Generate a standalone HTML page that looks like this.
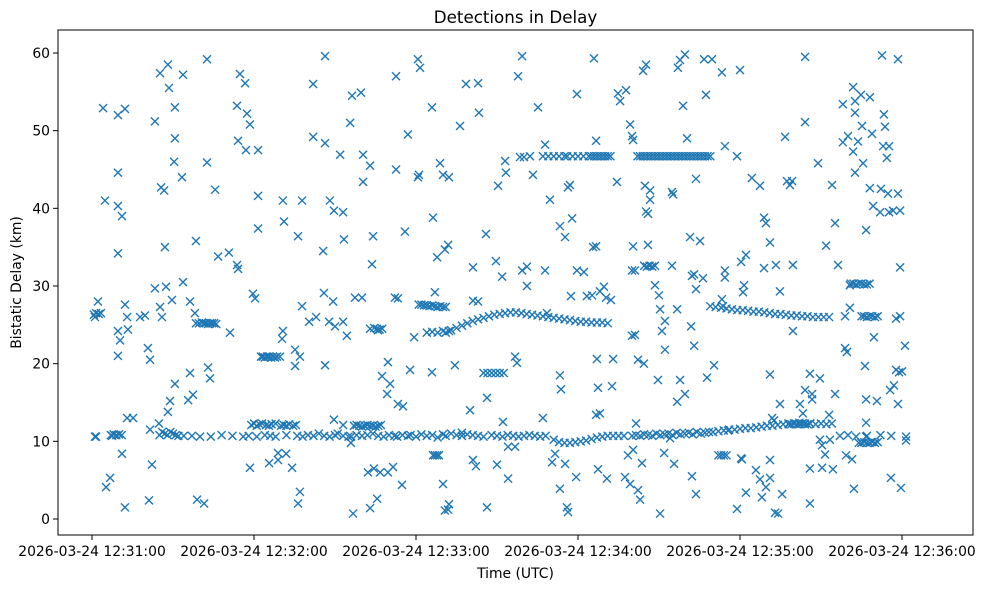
<!DOCTYPE html>
<html><head><meta charset="utf-8"><style>
html,body{margin:0;padding:0;background:#fff;}
svg{display:block;font-family:"DejaVu Sans","Liberation Sans",sans-serif;}
</style></head><body>
<svg id="chart" width="983" height="590" viewBox="0 0 983 590" xmlns="http://www.w3.org/2000/svg">
<rect x="0" y="0" width="983" height="590" fill="#fff"/>
<text x="515.5" y="23" text-anchor="middle" font-size="16.7" fill="#000">Detections in Delay</text>
<g id="marks"></g>
<rect x="58" y="30" width="915" height="505" fill="none" stroke="#000" stroke-width="1"/>
<g id="xaxis"></g>
<g id="yaxis"></g>
<text x="515.5" y="578" text-anchor="middle" font-size="13.9" fill="#000">Time (UTC)</text>
<text x="21" y="282.5" text-anchor="middle" font-size="13.9" fill="#000" transform="rotate(-90 21 282.5)">Bistatic Delay (km)</text>
</svg>
<script>
// seconds after 12:31:00, delay km
const xTickLabels = ["2026-03-24 12:31:00","2026-03-24 12:32:00","2026-03-24 12:33:00","2026-03-24 12:34:00","2026-03-24 12:35:00","2026-03-24 12:36:00"];
const xTickValues = [0,60,120,180,240,300];
const yTickValues = [0,10,20,30,40,50,60];

const scatterT = [1.1,1.1,1.5,2.2,4.1,4.8,5.2,6.7,7.4,9.6,9.6,9.6,9.6,9.6,9.6,10.4,11.1,11.1,12.2,12.2,12.2,13.0,13.0,13.3,15.2,17.8,19.6,20.7,21.5,21.5,21.1,22.2,23.3,23.3,24.8,25.2,25.2,25.6,25.9,26.7,27.0,27.4,28.1,28.1,28.5,28.9,29.6,30.4,30.7,30.7,30.7,33.3,33.7,33.7,35.6,36.3,36.3,37.4,38.1,38.5,38.9,41.5,42.6,42.6,43.0,43.7,45.6,46.7,50.7,51.1,53.7,53.7,54.1,54.1,54.8,56.7,57.0,57.4,58.5,58.5,59.6,60.4,61.5,61.5,61.5,65.6,68.9,68.9,70.7,70.7,71.1,70.4,71.9,74.1,75.2,75.2,76.3,76.3,77.0,77.0,77.8,77.8,80.4,81.9,81.9,83.0,85.6,85.9,86.3,86.3,86.3,87.8,88.1,89.3,89.6,89.6,90.0,91.9,93.0,93.0,93.0,93.3,94.4,95.6,95.9,96.3,96.7,97.4,99.6,100.0,100.4,100.4,102.2,103.0,103.0,103.7,104.1,104.4,105.6,105.9,106.7,107.4,109.3,109.6,109.6,110.4,111.5,112.2,112.6,112.6,113.3,113.3,114.8,115.2,115.9,117.0,117.8,119.3,120.7,120.7,121.1,121.5,125.9,125.9,126.3,127.0,127.8,128.9,130.0,130.0,130.7,130.7,131.9,131.9,132.2,132.2,132.2,134.4,136.3,137.0,138.5,140.0,141.1,141.1,141.1,142.2,143.0,143.0,143.3,145.9,146.3,146.3,149.6,150.0,150.4,151.9,152.2,153.0,153.3,154.1,154.1,156.7,156.7,157.4,157.8,158.5,159.3,159.3,160.0,161.1,161.1,162.2,163.3,165.2,167.0,167.8,167.8,168.5,169.6,170.4,171.5,173.3,173.3,173.3,173.7,175.2,175.2,176.3,176.3,175.9,177.0,177.4,177.8,179.3,179.6,179.6,182.2,183.3,185.2,185.6,185.9,186.7,186.7,186.7,187.0,187.4,187.4,188.1,188.1,189.6,190.4,190.7,192.2,192.6,193.0,194.4,194.8,195.6,197.4,197.8,198.5,199.3,199.3,200.0,200.0,200.0,200.4,200.4,200.4,201.1,201.1,201.5,202.2,202.2,203.0,203.7,204.1,204.4,204.8,205.2,205.2,205.9,205.9,206.7,206.7,208.5,209.6,210.0,210.4,210.4,211.1,211.9,212.2,212.2,214.1,214.8,214.8,215.2,215.6,216.7,216.7,217.0,217.8,217.8,218.9,219.6,219.6,220.4,221.5,221.9,222.2,222.2,223.0,223.0,223.7,223.7,223.7,225.2,226.3,226.7,227.4,227.8,229.6,230.4,233.3,233.3,233.7,234.4,234.4,234.4,235.6,238.9,238.9,240.0,240.4,240.4,240.7,241.1,241.5,242.2,242.2,244.4,245.9,247.4,247.4,248.1,248.9,248.9,249.6,249.6,251.1,251.1,251.1,251.1,251.9,252.6,253.3,254.8,254.8,253.0,254.1,255.6,256.7,257.4,258.5,259.3,259.6,259.6,262.2,263.3,264.1,264.1,264.1,265.9,265.9,265.9,266.7,266.7,268.9,269.6,269.6,270.4,270.4,271.5,271.9,273.0,273.3,274.1,274.4,275.2,275.2,276.3,278.1,278.1,278.9,278.9,279.3,279.6,280.0,280.7,280.7,281.5,281.9,281.9,282.2,282.6,282.6,282.6,283.7,284.8,285.2,285.6,286.3,286.7,286.7,286.7,286.7,288.1,288.1,288.9,289.3,289.6,290.7,291.9,292.2,292.6,293.0,293.3,293.7,294.4,294.8,295.2,295.2,295.6,295.9,296.7,297.0,297.8,297.8,298.5,298.5,298.5,298.9,299.3,299.3,299.3,299.6,300.0,301.1,301.5,301.5];
const scatterD = [26.0,10.6,10.6,28.0,52.9,41.0,4.1,5.3,10.7,44.6,40.3,34.2,21.0,24.2,52.0,23.0,39.0,8.4,52.8,27.6,1.5,26.0,13.0,24.4,13.0,26.0,26.2,22.0,20.5,11.5,2.4,7.0,29.7,51.2,12.3,57.4,27.3,42.7,26.0,42.3,35.0,29.9,13.8,58.5,55.5,15.2,28.2,46.0,17.4,53.0,49.0,44.0,57.2,30.5,15.3,28.0,18.8,16.0,26.5,35.8,2.5,2.0,45.9,59.2,19.5,18.1,42.4,33.8,34.3,24.0,32.7,53.2,32.2,48.7,57.3,56.1,47.5,52.2,50.8,6.6,29.0,28.4,47.5,41.6,37.4,7.2,8.5,7.6,41.0,24.2,38.3,23.2,8.4,6.6,21.8,19.7,36.4,2.0,3.5,20.9,41.0,27.4,25.4,49.2,56.0,26.0,34.5,29.1,59.6,48.4,19.8,25.4,41.0,28.0,39.7,12.8,24.8,46.9,39.5,25.4,12.1,36.0,23.6,51.0,9.8,54.5,0.7,28.5,54.9,28.5,46.9,43.4,6.0,45.5,1.4,32.8,36.4,6.5,2.6,24.3,6.0,18.4,16.1,20.2,6.0,17.4,6.7,28.5,57.0,45.0,28.4,14.8,4.4,14.5,37.0,49.5,19.2,23.4,59.2,44.0,44.3,58.1,53.0,18.9,38.8,29.2,33.7,45.8,44.3,4.5,34.7,1.1,35.3,1.2,44.0,24.2,1.9,19.8,50.6,11.1,56.0,14.0,7.6,32.4,28.1,6.8,56.1,28.0,52.3,36.7,15.6,1.5,33.2,7.0,42.9,31.2,12.5,46.1,44.6,5.2,9.3,9.3,20.9,20.1,57.0,46.6,59.6,32.0,46.6,30.0,32.5,46.7,44.3,53.0,13.0,48.2,32.0,26.5,41.1,7.3,8.4,37.7,18.5,3.9,16.7,36.3,7.1,42.7,0.9,1.5,43.0,28.7,38.7,5.4,54.7,32.0,31.8,28.7,28.8,35.0,59.3,48.7,13.4,35.1,20.6,16.9,6.4,29.3,13.6,29.9,28.5,5.2,28.2,17.1,20.6,43.4,54.8,53.8,5.4,55.2,8.2,50.8,4.5,49.3,32.0,23.6,48.8,35.1,8.9,32.0,23.7,12.3,20.5,3.7,2.5,7.2,57.7,20.0,42.9,58.5,39.6,39.3,35.3,42.3,41.1,30.1,17.9,28.8,27.0,0.7,24.2,8.5,25.5,21.8,10.4,42.1,32.6,41.8,7.1,27.0,15.1,58.1,59.1,17.9,53.2,59.8,16.1,49.0,36.3,24.8,31.3,5.5,31.5,22.3,43.8,29.6,3.2,35.8,31.0,59.2,54.6,18.2,59.2,19.8,57.5,28.3,27.4,48.0,32.0,31.1,11.4,46.7,1.3,57.8,33.1,7.8,7.7,29.2,30.1,34.0,3.4,43.9,6.3,42.9,5.1,2.8,38.8,32.3,38.1,4.1,35.6,5.3,7.6,18.6,13.0,12.7,32.7,29.3,14.8,0.8,0.7,3.2,49.2,43.5,43.0,43.5,32.7,24.2,14.8,13.6,59.5,51.1,16.6,18.7,2.0,6.5,16.1,15.4,45.8,18.1,10.2,9.5,6.6,8.3,35.2,13.4,10.2,43.0,6.4,38.1,16.1,32.7,53.4,48.5,22.0,26.1,8.2,21.5,49.3,30.1,27.2,7.7,55.6,47.3,3.9,53.8,52.3,44.6,48.6,54.6,50.6,45.8,19.7,37.2,15.4,12.4,10.6,54.3,42.6,49.6,40.3,23.4,15.2,39.5,42.5,59.7,48.0,52.1,50.5,46.5,41.9,48.0,39.5,16.6,5.3,39.7,17.2,25.8,19.2,59.2,41.9,14.8,18.9,39.7,32.4,26.1,4.0,19.0,22.3,10.6,10.1];

const trackT = [0.7,1.5,2.5,3.3,
38.5,39.6,40.7,41.5,42.2,43,43.7,44.4,45.2,46,
62.6,63.3,64,64.8,65.5,66.3,67,67.8,68.5,69.6,
59,60,61,62,63,64.5,65.5,66.5,68,70,71,72,73,74.5,75.5,
97,98,99,100,101,102,103,104,105,106,107,
103,104.5,105.5,106.5,107.5,
121,122,123,124,125,126,127,128,129,130,131,
131,133,135,137,139,141,143,145,147,149,151,153,155,157,159,161,163,165,167,169,171,173,175,177,179,181,183,185,187,189,191,
124,126,128,130,
167,169,171,173,175,176,178,180,182,184,185,186,187,188,189,190,191,192,
202,203,204,205,206,207,208,209,210,211,212,213,214,215,216,217,218,219,220,221,222,223,224,225,226,227,228,229,
204.5,205.5,206.5,207.5,208.5,
229,231,233,235,237,239,241,243,245,247,249,251,253,255,257,259,
261,263,265,267,269,271,273,
281,282,283,284,285,286,287,288,
285,286,287,288,289,290,291,
126.3,127,127.8,128.5,232,233,234,235,
145,146.5,148,149.5,151,152.5,
258,259,260,261,262,263,264,265,266,
284,285,286,287,288,289,290,291,
7,8,9,10,11,25,26,27,28,29,30,31,32,34,37,40,44,48,52,56,58,61,64,66,68,72,76,78,80,82,84,86,88,90,91,93,95,96,98,100,102,104,106,108,110,112,113,115,117,118,120,122,124,126,128,130,131,133,135,137,139,141,143,145,148,150,152,154,156,158,160,162,164,166,168,
171,173,175,177,179,181,183,185,187,189,191,193,195,197,
200,201.5,203,204.5,206,207.5,209,210.5,212,213.5,215,216.5,218,219.5,221,222.5,224,225.5,227,228.5,
230,232,234,236,238,240,242,244,246,248,250,252,254,256,258,
260,262,264,266,268,270,272,274,
277,280,283,287,292,296];
const trackD = [26.3,26.5,26.4,26.5,
25.2,25.2,25.3,25.2,25.2,25.1,25.2,25.2,25.2,25.1,
20.9,20.9,20.8,20.9,20.9,20.8,20.9,20.8,20.9,20.9,
12.1,12.3,12.0,12.2,12.3,12.1,12.0,12.2,12.3,12.0,12.1,12.0,12.2,12.0,12.1,
12.0,12.1,12.0,11.9,12.0,12.1,12.0,12.0,11.9,12.0,12.1,
24.5,24.6,24.5,24.4,24.5,
27.6,27.6,27.5,27.5,27.4,27.5,27.4,27.3,27.4,27.3,27.3,
24.0,24.3,24.6,24.9,25.2,25.5,25.7,25.9,26.1,26.3,26.4,26.5,26.6,26.6,26.5,26.4,26.3,26.2,26.1,26.0,25.9,25.8,25.7,25.6,25.5,25.4,25.4,25.3,25.3,25.3,25.2,
24.0,24.1,24.0,24.2,
46.7,46.7,46.7,46.7,46.7,46.7,46.7,46.7,46.7,46.7,46.7,46.7,46.7,46.7,46.7,46.7,46.7,46.7,
46.7,46.7,46.7,46.7,46.7,46.7,46.7,46.7,46.7,46.7,46.7,46.7,46.7,46.7,46.7,46.7,46.7,46.7,46.7,46.7,46.7,46.7,46.7,46.7,46.7,46.7,46.7,46.7,
32.6,32.5,32.6,32.5,32.6,
27.4,27.3,27.2,27.1,27.0,26.9,26.9,26.8,26.7,26.7,26.6,26.5,26.4,26.4,26.3,26.2,
26.2,26.1,26.1,26.0,26.0,26.0,26.0,
30.3,30.3,30.2,30.3,30.3,30.2,30.2,30.3,
26.1,26.1,26.0,26.1,26.1,26.0,26.1,
8.2,8.2,8.2,8.2,8.2,8.2,8.2,8.2,
18.8,18.8,18.8,18.8,18.8,18.8,
12.2,12.2,12.3,12.2,12.2,12.3,12.2,12.2,12.3,
9.8,9.8,9.9,9.8,9.8,9.9,9.8,9.9,
10.8,10.9,10.8,10.9,10.8,10.8,11.2,11.0,10.8,11.2,11.0,10.8,10.7,10.7,10.7,10.6,10.6,10.8,10.7,10.6,10.7,10.6,10.8,10.7,10.6,10.8,10.7,10.6,10.8,10.7,11.0,10.7,10.6,10.8,11.0,10.7,10.6,10.6,10.8,10.7,10.8,11.0,10.7,10.6,10.8,10.7,10.6,10.8,10.7,10.8,10.6,10.9,10.7,10.8,10.5,10.9,10.7,11.0,10.8,10.7,10.9,10.8,10.7,10.6,10.8,10.7,10.6,10.8,10.7,10.6,10.7,10.8,10.7,10.6,10.7,
10.2,9.9,9.8,9.8,9.9,10.0,10.1,10.3,10.5,10.6,10.7,10.7,10.7,10.7,
10.7,10.8,10.7,10.9,10.8,10.7,11.0,10.8,10.9,11.0,10.8,11.1,10.9,11.0,11.1,10.9,11.2,11.0,11.1,11.2,
11.2,11.3,11.4,11.5,11.5,11.6,11.7,11.7,11.8,11.9,12.0,12.0,12.1,12.2,12.3,
12.3,12.4,12.3,12.3,12.2,12.3,12.2,12.3,
10.7,10.8,10.6,10.7,10.8,10.7];

const X0=58, X1=973, Y0=30, Y1=535;
const xMin=-12.6, xMax=326.3, yMin=-2.06, yMax=62.96;
function xScale(v){return X0+(v-xMin)/(xMax-xMin)*(X1-X0);}
function yScale(v){return Y1-(v-yMin)/(yMax-yMin)*(Y1-Y0);}
const NS="http://www.w3.org/2000/svg";
const marks=document.getElementById('marks');
function drawX(t,d){
  const cx=xScale(t), cy=yScale(d), r=4;
  const p=document.createElementNS(NS,'path');
  p.setAttribute('d',`M${cx-r},${cy-r}L${cx+r},${cy+r}M${cx-r},${cy+r}L${cx+r},${cy-r}`);
  p.setAttribute('stroke','#1f77b4');
  p.setAttribute('stroke-width','1.4');
  p.setAttribute('fill','none');
  
  
  marks.appendChild(p);
}
for(let i=0;i<scatterT.length;i++) drawX(scatterT[i],scatterD[i]);
for(let i=0;i<trackT.length;i++) drawX(trackT[i],trackD[i]);

const xa=document.getElementById('xaxis');
xTickValues.forEach((v,i)=>{
  const x=xScale(v);
  const l=document.createElementNS(NS,'line');
  l.setAttribute('x1',x);l.setAttribute('x2',x);l.setAttribute('y1',Y1);l.setAttribute('y2',Y1+5);
  l.setAttribute('stroke','#000');
  
  
  xa.appendChild(l);
  const t=document.createElementNS(NS,'text');
  t.setAttribute('x',x);t.setAttribute('y',Y1+21);t.setAttribute('text-anchor','middle');t.setAttribute('font-size','13.9');
  t.textContent=xTickLabels[i];
  
  
  xa.appendChild(t);
});
const ya=document.getElementById('yaxis');
yTickValues.forEach(v=>{
  const y=yScale(v);
  const l=document.createElementNS(NS,'line');
  l.setAttribute('x1',X0-5);l.setAttribute('x2',X0);l.setAttribute('y1',y);l.setAttribute('y2',y);
  l.setAttribute('stroke','#000');
  
  
  ya.appendChild(l);
  const t=document.createElementNS(NS,'text');
  t.setAttribute('x',X0-8);t.setAttribute('y',y+5);t.setAttribute('text-anchor','end');t.setAttribute('font-size','13.9');
  t.textContent=String(v);
  
  
  ya.appendChild(t);
});
</script>
</body></html>
